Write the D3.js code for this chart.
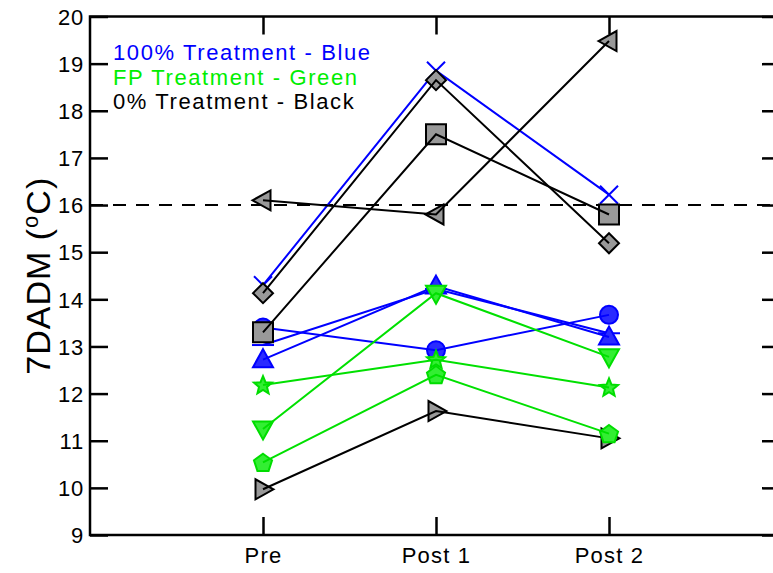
<!DOCTYPE html>
<html><head><meta charset="utf-8">
<script src="https://cdn.jsdelivr.net/npm/d3@7"></script>
<style>body{margin:0;background:#fff}svg{display:block}text{font-family:"Liberation Sans",Arial,sans-serif}</style>
</head><body>
<svg id="c" width="773" height="573"></svg>
<script>
const categories = ["Pre", "Post 1", "Post 2"];
const yTicks = [9,10,11,12,13,14,15,16,17,18,19,20];
const threshold = 16;
const legendLabels = ["100% Treatment - Blue", "FP Treatment - Green", "0% Treatment - Black"];
// series values (Pre, Post 1, Post 2)
const blueX        = [14.30, 18.85, 16.22];
const blueCircle   = [13.40, 12.92, 13.67];
const blueDash     = [13.03, 14.22, 13.28];
const blueTriangle = [12.72, 14.28, 13.20];
const greenStar    = [12.18, 12.72, 12.13];
const greenDown    = [11.25, 14.13, 12.78];
const greenPent    = [10.54, 12.40, 11.15];
const blackDiamond = [14.13, 18.65, 15.19];
const blackSquare  = [13.30, 17.50, 15.80];
const blackLeft    = [16.10, 15.80, 19.48];
const blackRight   = [9.97, 11.63, 11.05];

const series = [
  {v: blackRight, group: 2, shape: "right"},
  {v: blueX, group: 0, shape: "x"},
  {v: blueCircle, group: 0, shape: "circle"},
  {v: blueDash, group: 0, shape: "dash"},
  {v: blueTriangle, group: 0, shape: "up"},
  {v: greenStar, group: 1, shape: "star"},
  {v: greenDown, group: 1, shape: "down"},
  {v: greenPent, group: 1, shape: "pent"},
  {v: blackLeft, group: 2, shape: "left"},
  {v: blackSquare, group: 2, shape: "square"},
  {v: blackDiamond, group: 2, shape: "diamond"}
];
const styles = [
  {line: "#0000ff", fill: "#2a2aff", stroke: "#0000ff"},
  {line: "#00e000", fill: "#33ee33", stroke: "#00dd00"},
  {line: "#000000", fill: "#999999", stroke: "#000000"}
];

const svg = d3.select("#c");
const x = d3.scaleLinear().domain([0, 4]).range([90, 782]);
const y = d3.scaleLinear().domain([9, 20]).range([535, 16.5]);

// dashed threshold
svg.append("line").attr("x1", x(0)).attr("x2", x(4)).attr("y1", y(threshold)).attr("y2", y(threshold))
  .attr("stroke", "#000").attr("stroke-width", 2).attr("stroke-dasharray", "13,10");

function poly(pts){ return "M" + pts.map(p => p[0].toFixed(2) + "," + p[1].toFixed(2)).join("L") + "Z"; }
function shapePath(s){
  const r = 10;
  switch(s){
    case "circle": return d3.symbol(d3.symbolCircle, Math.PI*9*9)();
    case "square": return poly([[-r,-r],[r,-r],[r,r],[-r,r]]);
    case "diamond": return poly([[0,-r],[r,0],[0,r],[-r,0]]);
    case "up": return poly([[0,-r*1.05],[r,r*0.75],[-r,r*0.75]]);
    case "down": return poly([[0,r*1.05],[r,-r*0.75],[-r,-r*0.75]]);
    case "left": return poly([[-r*1.05,0],[r*0.75,-r],[r*0.75,r]]);
    case "right": return poly([[r*1.05,0],[-r*0.75,-r],[-r*0.75,r]]);
    case "pent": { const p=[]; for(let i=0;i<5;i++){const a=-Math.PI/2+i*2*Math.PI/5; p.push([9.5*Math.cos(a),9.5*Math.sin(a)+0.8]);} return poly(p); }
    case "star": { const p=[]; for(let i=0;i<10;i++){const a=-Math.PI/2+i*Math.PI/5; const rr=i%2?4.2:9.5; p.push([rr*Math.cos(a),rr*Math.sin(a)+0.5]);} return poly(p); }
    case "x": return "M-9,-9L9,9M-9,9L9,-9";
    case "dash": return "M-11,0L11,0";
  }
}

const gS = svg.append("g");
series.forEach(s => {
  const st = styles[s.group];
  const g = gS.append("g");
  g.selectAll("path.m").data(s.v).join("path").attr("class", "m")
    .attr("transform", (d,i) => `translate(${x(i+1)},${y(d)})`)
    .attr("d", shapePath(s.shape))
    .attr("fill", (s.shape === "x" || s.shape === "dash") ? "none" : st.fill)
    .attr("stroke", st.stroke).attr("stroke-width", 2).attr("stroke-linejoin", "miter");
  g.append("path").datum(s.v)
    .attr("d", d3.line().x((d,i) => x(i+1)).y(d => y(d)))
    .attr("fill", "none").attr("stroke", st.line).attr("stroke-width", 2);
});

// axes frame
svg.append("rect").attr("x", x(0)).attr("y", y(20)).attr("width", x(4)-x(0)).attr("height", y(9)-y(20))
  .attr("fill", "none").attr("stroke", "#000").attr("stroke-width", 2.5);

const yAxis = d3.axisLeft(y).tickValues(yTicks).tickSize(-18).tickPadding(6).tickFormat(d3.format("d"));
const gy = svg.append("g").attr("transform", `translate(${x(0)},0)`).call(yAxis);
const yAxisR = d3.axisRight(y).tickValues(yTicks).tickSize(-20).tickFormat("");
const gyr = svg.append("g").attr("transform", `translate(${x(4)},0)`).call(yAxisR);
const xAxis = d3.axisBottom(x).tickValues([1,2,3]).tickSize(-18).tickPadding(12).tickFormat(d => categories[d-1]);
const gx = svg.append("g").attr("transform", `translate(0,${y(9)})`).call(xAxis);
const xAxisT = d3.axisTop(x).tickValues([1,2,3]).tickSize(-18).tickFormat("");
const gxt = svg.append("g").attr("transform", `translate(0,${y(20)})`).call(xAxisT);
[gy, gyr, gx, gxt].forEach(g => {
  g.select(".domain").remove();
  g.selectAll(".tick line").attr("stroke", "#000").attr("stroke-width", 2.5);
  g.selectAll(".tick text").attr("fill", "#000").style("font-size", "22px").style("letter-spacing", "1.2px")
    .style("font-family", "'Liberation Sans',Arial,sans-serif");
});
gy.selectAll(".tick text").attr("dy", "0.35em").style("letter-spacing", "0.8px");

// y label
const yl = svg.append("text").attr("transform", `translate(50,${(y(20)+y(9))/2}) rotate(-90)`)
  .attr("text-anchor", "middle").style("font-size", "34px").style("letter-spacing", "1px").attr("fill", "#000");
yl.append("tspan").text("7DADM (");
yl.append("tspan").text("o").style("font-size", "22px").attr("dy", "-12");
yl.append("tspan").text("C)").attr("dy", "12");

// legend
const legColors = ["#0000ff", "#00ee00", "#000000"];
legendLabels.forEach((t, i) => {
  svg.append("text").attr("x", 113).attr("y", 60 + i*24.5).text(t)
    .attr("fill", legColors[i]).style("font-size", "22px").style("letter-spacing", "1.6px");
});
</script>
</body></html>
